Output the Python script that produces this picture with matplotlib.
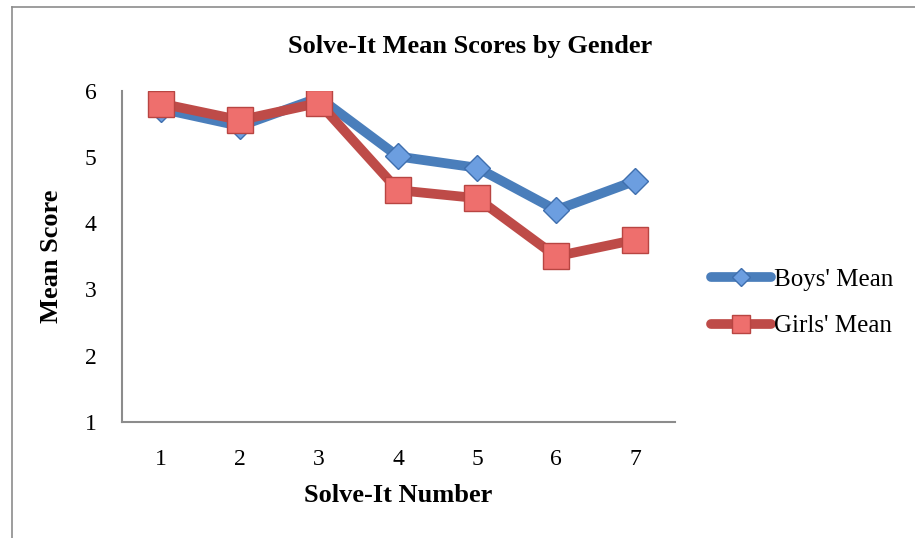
import matplotlib
matplotlib.use("Agg")
import matplotlib.pyplot as plt
from matplotlib.lines import Line2D

solve_it = [1, 2, 3, 4, 5, 6, 7]
boys_mean = [5.73, 5.47, 5.90, 5.01, 4.84, 4.20, 4.64]
girls_mean = [5.81, 5.56, 5.82, 4.50, 4.38, 3.50, 3.75]
y_ticks = [1, 2, 3, 4, 5, 6]

W, H = 915, 538
fig = plt.figure(figsize=(W / 100, H / 100), dpi=100)

# chart frame (only top and left edges show)
fig.add_artist(Line2D([12 / W, 1.0], [1 - 7 / H, 1 - 7 / H], color="#8c8c8c", lw=1.2))
fig.add_artist(Line2D([12 / W, 12 / W], [0.0, 1 - 7 / H], color="#8c8c8c", lw=1.2))

ax = fig.add_axes([121.7 / W, 1 - 421.7 / H, (674.5 - 121.7) / W, (421.7 - 91) / H])

serif = "Liberation Serif"

blue, blue_face, blue_edge = "#4A7EBB", "#6C9EE0", "#3F6FAE"
red, red_face, red_edge = "#BE4B48", "#EE6F6D", "#B84542"

ax.plot(solve_it, boys_mean, color=blue, lw=7, solid_joinstyle="miter",
        marker="D", markersize=13, markerfacecolor=blue_face,
        markeredgecolor=blue_edge, markeredgewidth=1.0, zorder=3)
ax.plot(solve_it, girls_mean, color=red, lw=7, solid_joinstyle="miter",
        marker="s", markersize=19, markerfacecolor=red_face,
        markeredgecolor=red_edge, markeredgewidth=1.0, zorder=4)

ax.set_xlim(0.5, 7.5)
ax.set_ylim(1, 6)
ax.set_xticks(solve_it)
ax.set_yticks(y_ticks)
ax.tick_params(length=0, labelsize=17)
ax.tick_params(axis="y", pad=18)
ax.tick_params(axis="x", pad=20)
for lab in ax.get_xticklabels() + ax.get_yticklabels():
    lab.set_fontfamily(serif)

for s in ["top", "right"]:
    ax.spines[s].set_visible(False)
for s in ["left", "bottom"]:
    ax.spines[s].set_color("#8c8c8c")
    ax.spines[s].set_linewidth(1.5)

ax.set_xlabel("Solve-It Number", fontfamily=serif, fontweight="bold", fontsize=19, labelpad=10)
ax.set_ylabel("Mean Score", fontfamily=serif, fontweight="bold", fontsize=19, labelpad=16)

fig.text(470 / W, 1 - 47 / H, "Solve-It Mean Scores by Gender", ha="center", va="center",
         fontfamily=serif, fontweight="bold", fontsize=19)

handles = [
    Line2D([], [], color=blue, lw=7, solid_capstyle="round", marker="D", markersize=9,
           markerfacecolor=blue_face, markeredgecolor=blue_edge, markeredgewidth=1.0),
    Line2D([], [], color=red, lw=7, solid_capstyle="round", marker="s", markersize=13,
           markerfacecolor=red_face, markeredgecolor=red_edge, markeredgewidth=1.0),
]
ax.legend(handles, ["Boys' Mean", "Girls' Mean"], loc="center left",
          bbox_to_anchor=(711 / W, 1 - 303 / H), bbox_transform=fig.transFigure,
          frameon=False, prop={"family": serif, "size": 18}, handlelength=2.4,
          handletextpad=0.1, labelspacing=0.95, borderaxespad=0, borderpad=0)

fig.savefig("out.png", dpi=100)
